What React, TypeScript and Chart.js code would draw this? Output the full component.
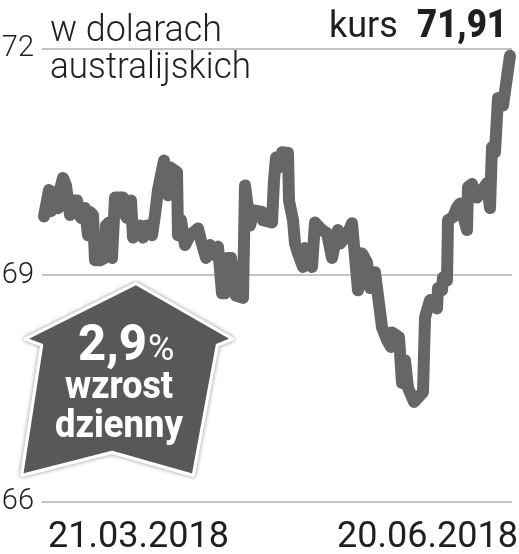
import React, { useEffect, useRef } from "react";
import { Chart, registerables } from "chart.js";

Chart.register(...registerables);

// sample position along the period (quote index) and AUD rate
const samples = [2,7,9,12,16,18,21,24,28,31,35,39,43,46,48,51,53,58,63,64,67,70,73,81,83,85,89,91,95,98,101,105,110,113,116,122,126,128,135,136,139,143,148,156,159,164,168,172,176,180,183,185,189,194,201,203,208,212,220,221,230,232,234,237,240,246,247,251,253,256,261,263,270,273,280,285,290,296,298,305,310,316,320,325,328,333,335,340,345,349,350,357,360,363,366,372,381,383,388,395,396,400,401,405,406,411,415,418,425,426,430,435,445,448,450,453,456,461,468];
const rates = [69.78,70.13,69.85,70.10,69.89,70.13,70.29,70.19,69.80,69.99,69.99,69.76,69.89,69.53,69.84,69.80,69.20,69.20,69.23,69.66,69.70,69.23,70.03,70.03,69.80,69.76,69.99,69.50,69.65,69.66,69.50,69.66,69.53,69.80,70.13,70.52,70.06,70.43,70.37,69.53,69.73,69.40,69.53,69.62,69.46,69.23,69.40,69.27,69.38,68.76,68.76,69.23,69.23,68.73,68.70,70.19,69.66,69.86,69.84,69.73,69.70,70.26,70.56,70.43,70.63,70.62,69.99,69.73,69.42,69.29,69.11,69.36,69.11,69.70,69.60,69.56,69.23,69.60,69.42,69.53,69.69,68.80,69.29,69.17,68.83,69.04,68.83,68.31,68.14,68.05,68.24,68.18,67.57,67.87,67.51,67.32,67.45,68.44,68.67,68.56,68.83,68.80,68.97,68.93,69.73,69.77,69.90,69.95,69.60,70.17,70.21,70.03,70.22,69.89,70.70,70.63,71.35,71.25,71.91];

const yTicks = [72, 69, 66];
const dateTicks = [96.5, 385.5];
const dateLabels = ["21.03.2018", "20.06.2018"];
const titleLines = ["w dolarach", "australijskich"];
const quoteLabel = "kurs";
const quoteValue = "71,91";
const badgePercent = "2,9";
const badgeLines = ["wzrost", "dzienny"];

const INK = "#1f1f1f";

const decor = {
  id: "decor",
  afterDraw(chart: any) {
    const c = chart.ctx;
    c.save();
    c.textBaseline = "alphabetic";
    c.fillStyle = INK;
    c.textAlign = "left";
    c.font = "300 36px Roboto";
    c.fillText(titleLines[0], 50, 41, 172);
    c.fillText(titleLines[1], 50, 78, 201);
    c.font = "400 36px Roboto";
    c.fillText(quoteLabel, 329, 37, 71);
    c.font = "900 38px Roboto";
    c.fillText(quoteValue, 417, 37, 90);

    // arrow badge
    const pts = [[136,284],[232,339],[217,345],[193,475],[112,452],[22,475],[42,345],[26,339]];
    c.beginPath();
    pts.forEach((p, i) => (i ? c.lineTo(p[0], p[1]) : c.moveTo(p[0], p[1])));
    c.closePath();
    c.lineJoin = "round";
    c.shadowColor = "rgba(0,0,0,0.45)";
    c.shadowBlur = 4;
    c.strokeStyle = "#ffffff";
    c.lineWidth = 4;
    c.stroke();
    c.shadowColor = "transparent";
    c.shadowBlur = 0;
    c.fillStyle = "#58585a";
    c.fill();
    c.strokeStyle = "#ffffff";
    c.lineWidth = 2.5;
    c.stroke();

    c.fillStyle = "#ffffff";
    c.font = "800 50px Roboto";
    c.fillText(badgePercent, 78, 360, 69);
    c.font = "400 36px Roboto";
    c.fillText("%", 148, 360, 27);
    c.font = "800 39px Roboto";
    c.fillText(badgeLines[0], 65, 398, 108);
    c.fillText(badgeLines[1], 55, 437, 128);
    c.restore();
  },
};

export default function App() {
  const ref = useRef<HTMLCanvasElement | null>(null);
  useEffect(() => {
    document.body.style.margin = "0";
    const chart = new Chart(ref.current!, {
      type: "line",
      data: {
        datasets: [
          {
            data: samples.map((s, i) => ({ x: s, y: rates[i] })),
            borderColor: "#666666",
            borderWidth: 12,
            borderCapStyle: "round",
            borderJoinStyle: "round",
            pointRadius: 0,
            tension: 0,
            clip: false,
          },
        ],
      },
      options: {
        responsive: false,
        animation: false,
        layout: { padding: { top: 49, right: 7, left: 0, bottom: 0 } },
        plugins: { legend: { display: false }, tooltip: { enabled: false } },
        scales: {
          x: {
            type: "linear",
            min: 0,
            max: 470,
            border: { display: false },
            grid: { display: false },
            afterBuildTicks: (s: any) => {
              s.ticks = dateTicks.map((v) => ({ value: v }));
            },
            afterFit: (s: any) => {
              s.height = 52.5;
              s.paddingLeft = 0;
              s.paddingRight = 0;
            },
            ticks: {
              autoSkip: false,
              maxRotation: 0,
              color: INK,
              padding: 7,
              font: { family: "Roboto", size: 36, weight: "400" },
              callback: (v: any) => dateLabels[dateTicks.indexOf(v)],
            },
          },
          y: {
            min: 66,
            max: 72,
            border: { display: false },
            afterBuildTicks: (s: any) => {
              s.ticks = yTicks.map((v) => ({ value: v }));
            },
            afterFit: (s: any) => {
              s.width = 42;
              s.paddingTop = 0;
              s.paddingBottom = 0;
            },
            grid: { color: "#c4c4c4", lineWidth: 2, drawTicks: false },
            ticks: {
              color: INK,
              padding: 8,
              font: { family: "Roboto", size: 29, weight: "300" },
            },
          },
        },
      },
      plugins: [decor],
    } as any);
    return () => chart.destroy();
  }, []);
  return <canvas ref={ref} width={519} height={554} style={{ display: "block" }} />;
}
